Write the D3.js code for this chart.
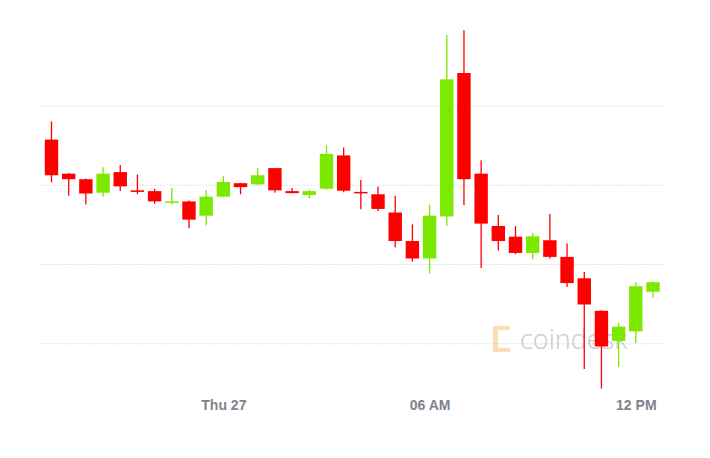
<!DOCTYPE html>
<html>
<head>
<meta charset="utf-8">
<script src="https://cdn.jsdelivr.net/npm/d3@7"></script>
<style>
    html, body { margin: 0; padding: 0; background: #fff; }
    svg { display: block; }
</style>
</head>
<body>
<svg id="chart"></svg>
<script>
    // 30 minute candles, Wed 26 19:00 -> Thu 27 12:30
    var startTime  = new Date(2020, 1, 26, 19, 0);
    var candleMins = 30;

    var opens  = [8957, 8914, 8907, 8890, 8916, 8893, 8892, 8877.5, 8879, 8861, 8885, 8902,
                  8900.5, 8921, 8892, 8887, 8895, 8937, 8891, 8888, 8865, 8829, 8807, 8860,
                  9041, 8914, 8848, 8834.5, 8814, 8830, 8809, 8782, 8741, 8703, 8715, 8765];
    var highs  = [8980, 8915, 8908, 8922, 8925, 8913, 8895, 8896, 8880, 8893, 8911, 8902.5,
                  8921, 8921.5, 8896, 8894, 8950, 8947, 8906, 8897.5, 8886, 8850, 8875, 9089,
                  9095, 8931, 8862, 8848, 8839.5, 8863, 8826, 8790, 8741.5, 8726, 8777, 8778];
    var lows   = [8903, 8886, 8875, 8885, 8892, 8888, 8876, 8875, 8845, 8849, 8884.5, 8888,
                  8899.5, 8890, 8889, 8883, 8894, 8890.5, 8869, 8867, 8821, 8803, 8788, 8848,
                  8874.5, 8795, 8817, 8812.5, 8806, 8807, 8771, 8667.5, 8643, 8670, 8700, 8757.5];
    var closes = [8912, 8907, 8889, 8914, 8898, 8891, 8879, 8879, 8856, 8885, 8903.5, 8897,
                  8912, 8893, 8889.5, 8892, 8939, 8892.5, 8889.5, 8869.5, 8829, 8807, 8861, 9033,
                  8907, 8851, 8829, 8814, 8835, 8809, 8776, 8749, 8696, 8721, 8772, 8777];

    var gridPrices = [9000, 8900, 8800, 8700];
    var tickTimes  = [new Date(2020, 1, 27, 0, 0), new Date(2020, 1, 27, 6, 0), new Date(2020, 1, 27, 12, 0)];
    var tickLabels = ["Thu 27", "06 AM", "12 PM"];

    var width  = 710,
        height = 458;

    var upColor   = "#7de800",
        downColor = "#ff0000";

    var times = opens.map(function(d, i) {
        return d3.timeMinute.offset(startTime, i * candleMins);
    });

    var candles = times.map(function(t, i) {
        return { time: t, open: opens[i], high: highs[i], low: lows[i], close: closes[i] };
    });

    var svg = d3.select("#chart")
        .attr("width", width)
        .attr("height", height)
        .attr("viewBox", [0, 0, width, height].join(" "));

    svg.append("rect")
        .attr("width", width)
        .attr("height", height)
        .attr("fill", "#fff");

    var x = d3.scaleTime()
        .domain([times[0], times[times.length - 1]])
        .range([51.5, 653]);

    var y = d3.scaleLinear()
        .domain([8700, 9000])
        .range([343.3, 105.5]);

    var step      = x(times[1]) - x(times[0]);
    var bodyWidth = step * 0.78;

    // grid lines, no labels
    var grid = svg.append("g")
        .attr("transform", "translate(663,0)")
        .call(d3.axisRight(y).tickValues(gridPrices).tickSize(-622).tickFormat(""));
    grid.select(".domain").remove();
    grid.selectAll(".tick line")
        .attr("stroke", "#e4e4e4")
        .attr("stroke-dasharray", "2,1");

    // watermark sits under the candles
    var mark = svg.append("g").attr("opacity", 0.55);
    mark.append("path")
        .attr("d", "M493,326 h17 v4 h-12 v18 h12 v4 h-17 z")
        .attr("fill", "#f8c27a");
    mark.append("text")
        .attr("x", 520)
        .attr("y", 349)
        .attr("font-family", "'Open Sans', 'DejaVu Sans', sans-serif")
        .attr("font-weight", 300)
        .attr("font-size", 27)
        .attr("fill", "#9aa0ae")
        .text("coindesk");

    // candles
    var candle = svg.append("g").selectAll("g")
        .data(candles)
        .join("g")
        .attr("fill", function(d) { return d.close >= d.open ? upColor : downColor; })
        .attr("stroke", function(d) { return d.close >= d.open ? upColor : downColor; });

    candle.append("line")
        .attr("x1", function(d) { return x(d.time); })
        .attr("x2", function(d) { return x(d.time); })
        .attr("y1", function(d) { return y(d.high); })
        .attr("y2", function(d) { return y(d.low); })
        .attr("stroke-width", 1.3);

    candle.append("rect")
        .attr("x", function(d) { return x(d.time) - bodyWidth / 2; })
        .attr("width", bodyWidth)
        .attr("y", function(d) { return y(Math.max(d.open, d.close)); })
        .attr("height", function(d) { return Math.max(1.5, Math.abs(y(d.open) - y(d.close))); })
        .attr("stroke", "none");

    // time axis labels only
    var xAxis = svg.append("g")
        .attr("transform", "translate(0,409.5)")
        .call(d3.axisBottom(x)
            .tickValues(tickTimes)
            .tickSize(0)
            .tickPadding(0)
            .tickFormat(function(d, i) { return tickLabels[i]; }));
    xAxis.select(".domain").remove();
    xAxis.selectAll("text")
        .attr("dy", 0)
        .attr("font-family", "'Liberation Sans', Arial, sans-serif")
        .attr("font-weight", "bold")
        .attr("font-size", 14)
        .attr("fill", "#80838d");
</script>
</body>
</html>
